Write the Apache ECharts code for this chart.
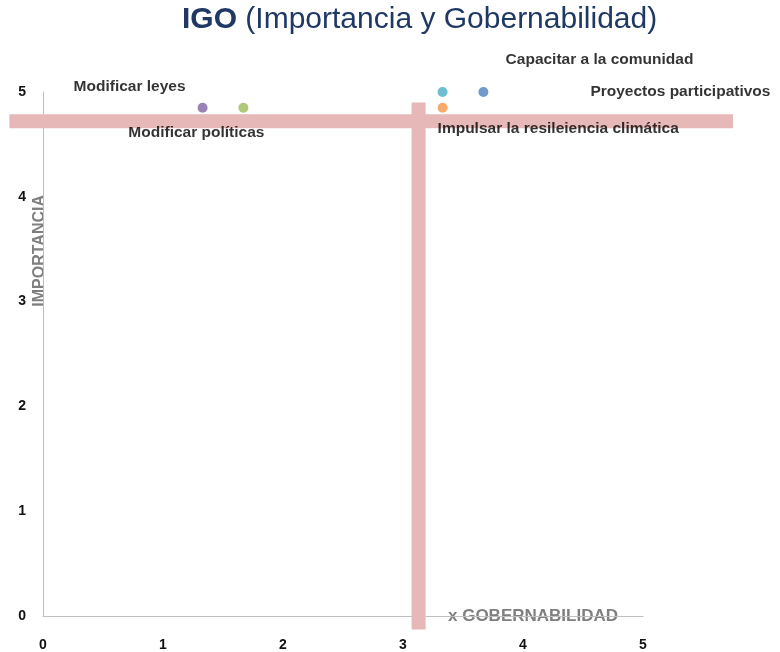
<!DOCTYPE html>
<html lang="es">
  <head>
    <meta charset="UTF-8" />
    <title>IGO</title>
    <script src="https://cdn.jsdelivr.net/npm/echarts@6/dist/echarts.min.js"></script>
  </head>

  <body style="margin: 0">
    <div id="main" style="width: 780px; height: 652px"></div>

    <script type="text/javascript">
      // actions: name, gobernabilidad (x), importancia (y)
      const names = [
        "Modificar leyes",
        "Modificar políticas",
        "Capacitar a la comunidad",
        "Proyectos participativos",
        "Impulsar la resileiencia climática",
      ];
      const gobernabilidad = [1.33, 1.67, 3.33, 3.67, 3.33];
      const importancia = [4.85, 4.85, 5.0, 5.0, 4.85];
      const colors = ["#8064a2", "#9bbb59", "#4bacc6", "#4f81bd", "#f79646"];

      // label placement per point
      const labelPos = ["left", "bottom", "right", "right", "right"];
      const labelOffset = [[-7, -21], [-47, 7], [53, -32], [97, 0], [-15, 21]];

      // the two pink divider lines (they run past the plot area)
      const hLineX = [-0.28, 5.75];
      const hLineY = 4.72;
      const vLineX = 3.13;
      const vLineY = [4.9, -0.13];

      const tickLabels = [0, 1, 2, 3, 4, 5];

      // custom series so the dividers are not clipped to the grid
      function divider(points) {
        return {
          type: "custom",
          silent: true,
          clip: false,
          z: 1,
          data: [0],
          renderItem: function (params, api) {
            const a = api.coord(points[0]);
            const b = api.coord(points[1]);
            return {
              type: "line",
              shape: { x1: a[0], y1: a[1], x2: b[0], y2: b[1] },
              style: { stroke: "#e6b8b7", lineWidth: 14 },
            };
          },
        };
      }

      let series = [
        divider(hLineX.map((x) => [x, hLineY])),
        divider(vLineY.map((y) => [vLineX, y])),
      ];

      names.forEach((name, i) => {
        series.push({
          name: name,
          type: "scatter",
          data: [[gobernabilidad[i], importancia[i]]],
          symbol: "circle",
          symbolSize: 10,
          itemStyle: { color: colors[i] },
          z: 3,
          label: {
            show: true,
            formatter: name,
            position: labelPos[i],
            offset: labelOffset[i],
            color: "#000",
            fontWeight: "bold",
            fontSize: 15.5,
            fontFamily: "Liberation Sans",
          },
        });
      });

      const myChart = echarts.init(document.getElementById("main"));

      const options = {
        animation: false,
        title: {
          left: 177,
          top: 0,
          text: "{a|IGO}{b| (Importancia y Gobernabilidad)}",
          textStyle: {
            rich: {
              a: { fontSize: 30, fontWeight: "bold", color: "#1f3864", fontFamily: "Liberation Sans" },
              b: { fontSize: 30, fontWeight: "normal", color: "#1f3864", fontFamily: "Liberation Sans" },
            },
          },
        },
        grid: { left: 43, right: 137, top: 92, bottom: 35 },
        xAxis: {
          type: "value",
          min: 0,
          max: 5,
          interval: 1,
          axisLine: { show: true, lineStyle: { color: "#bfbfbf" } },
          axisTick: { show: false },
          splitLine: { show: false },
          axisLabel: {
            margin: 22,
            color: "#111",
            fontWeight: "bold",
            fontSize: 14,
            formatter: (v) => (tickLabels.includes(v) ? String(v) : ""),
          },
        },
        yAxis: {
          type: "value",
          min: 0,
          max: 5,
          interval: 1,
          axisLine: { show: true, lineStyle: { color: "#bfbfbf" } },
          axisTick: { show: false },
          splitLine: { show: false },
          axisLabel: {
            margin: 17,
            color: "#111",
            fontWeight: "bold",
            fontSize: 14,
            formatter: (v) => (tickLabels.includes(v) ? String(v) : ""),
          },
        },
        graphic: [
          {
            type: "text",
            left: 32,
            top: 195,
            rotation: Math.PI / 2,
            style: {
              text: "IMPORTANCIA",
              fill: "#7f7f7f",
              font: "bold 16px 'Liberation Sans'",
            },
          },
          {
            type: "text",
            left: 448,
            top: 608,
            style: {
              text: "x GOBERNABILIDAD",
              fill: "#7f7f7f",
              font: "bold 17px 'Liberation Sans'",
            },
          },
        ],
        series: series,
      };

      myChart.setOption(options);
    </script>
  </body>
</html>
